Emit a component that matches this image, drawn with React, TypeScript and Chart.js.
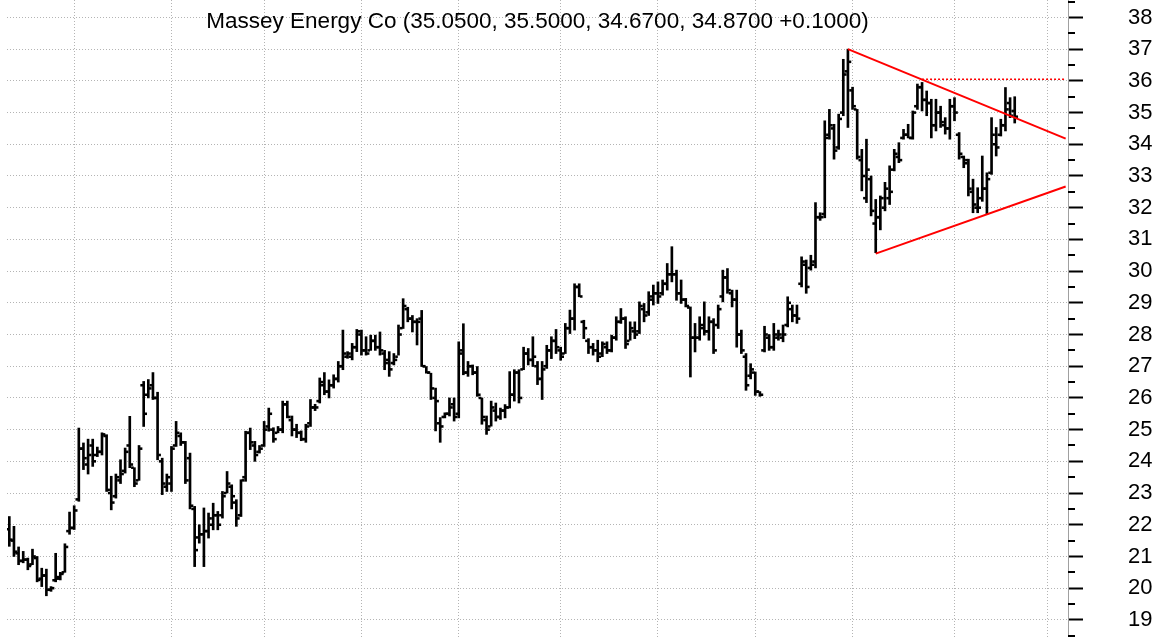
import React, { useEffect, useRef } from 'react';
import { Chart, registerables } from 'chart.js';

Chart.register(...registerables);

const TITLE = 'Massey Energy Co (35.0500, 35.5000, 34.6700, 34.8700 +0.1000)';

const HIGH = [
  22.26, 21.95, 21.30, 21.16, 20.95, 21.23, 21.00, 20.63, 20.60, 20.05,
  21.10, 20.50, 21.40, 22.40, 22.60, 25.05, 24.58, 24.70, 24.70, 24.45,
  24.90, 24.84, 23.53, 23.60, 24.05, 24.42, 25.42, 23.80, 24.50, 26.52,
  26.58, 26.80, 26.18, 24.10, 23.60, 24.47, 25.26, 24.90, 24.63, 24.26,
  22.58, 22.00, 22.53, 22.37, 22.68, 22.42, 23.05, 23.68, 23.26, 22.79,
  23.42, 24.95, 25.05, 24.63, 24.50, 25.26, 25.68,
  25.06, 25.10, 25.90, 25.90, 25.43, 25.17, 24.96, 25.17, 25.95, 25.80,
  26.63, 26.80, 26.57, 26.73, 27.15, 28.14, 27.46, 27.72, 28.16, 28.14,
  27.93, 27.98, 27.98, 28.08, 27.50, 27.46, 27.40, 28.30, 29.13, 28.86,
  28.60, 28.50, 28.76, 26.99, 26.78, 26.31, 25.38, 25.53, 26.00, 26.00,
  27.77, 28.34, 27.15, 27.04, 26.99, 26.00, 25.43, 25.90, 25.84, 25.68,
  25.79, 26.83, 26.89, 26.89, 27.60, 27.56, 27.93, 27.15, 27.15,
  27.66, 27.93, 28.16, 27.60, 28.35, 28.77, 29.60, 29.60, 28.45, 27.87,
  27.72, 27.82, 27.77, 27.77, 27.98, 28.56, 28.82, 28.56, 28.40, 28.40,
  29.03, 28.98, 29.35, 29.56, 29.66, 29.72, 30.24, 30.77, 30.03, 29.72,
  29.14, 28.87, 28.35, 28.56, 29.03, 28.56, 28.50, 28.93, 30.03, 30.08,
  29.40, 29.40, 28.14, 27.40, 27.08, 26.82, 26.20, 28.26, 28.00, 28.35,
  28.14, 28.30, 29.19, 28.93, 28.93, 30.45, 30.35, 30.50,
  32.16, 31.84, 34.74, 35.10, 34.63, 34.95, 36.68, 37.00, 35.80, 35.10,
  33.84, 34.16, 33.00, 32.26, 32.37, 32.80, 33.32, 33.84, 34.05, 34.47,
  34.63, 35.05, 35.90, 35.95, 35.68, 35.42, 35.42, 35.20, 34.84, 35.42,
  35.47, 34.37, 33.63, 33.53, 32.90, 32.63, 33.63, 33.10, 34.84, 34.53,
  34.79, 35.79, 35.47, 35.50,
];

const LOW = [
  21.32, 21.00, 20.74, 20.80, 20.58, 20.74, 20.20, 20.05, 19.76, 19.90,
  20.20, 20.26, 20.50, 21.70, 21.85, 22.74, 23.74, 23.60, 23.84, 24.15,
  24.20, 23.05, 22.47, 22.84, 23.30, 23.63, 23.80, 23.20, 23.40, 25.10,
  26.00, 25.95, 24.05, 22.95, 23.05, 23.05, 24.47, 24.50, 23.30, 22.50,
  20.68, 21.42, 20.68, 21.58, 21.84, 21.84, 22.21, 23.00, 22.50, 21.95,
  22.26, 23.37, 24.37, 24.00, 24.26, 24.47, 24.95,
  24.60, 24.90, 24.90, 25.37, 24.80, 24.75, 24.65, 24.60, 25.10, 25.60,
  25.84, 26.10, 26.00, 26.31, 26.50, 26.89, 27.25, 27.20, 27.46, 27.35,
  27.35, 27.50, 27.50, 27.35, 26.89, 26.68, 27.04, 27.35, 28.19, 28.40,
  28.08, 27.67, 26.99, 26.78, 25.95, 24.96, 24.60, 25.37, 25.43, 25.27,
  25.37, 26.73, 26.68, 26.73, 26.05, 25.17, 24.85, 25.11, 25.27, 25.32,
  25.37, 25.68, 25.90, 25.84, 26.89, 27.04, 26.99, 26.42, 25.95,
  26.93, 27.24, 27.40, 27.19, 27.40, 28.03, 28.14, 29.19, 27.87, 27.40,
  27.35, 27.14, 27.30, 27.40, 27.45, 27.82, 28.35, 27.56, 27.82, 27.87,
  28.03, 28.40, 28.60, 28.93, 28.98, 29.24, 29.40, 29.66, 29.08, 28.98,
  28.87, 26.66, 27.45, 27.82, 27.98, 27.82, 27.40, 28.19, 29.03, 29.30,
  28.87, 27.60, 27.40, 26.24, 26.60, 26.08, 26.05, 27.45, 27.50, 27.50,
  27.82, 27.77, 28.24, 28.40, 28.35, 29.50, 29.30, 30.03,
  30.10, 31.60, 31.68, 34.16, 33.53, 33.84, 34.90, 34.53, 35.10, 33.53,
  32.53, 32.16, 31.74, 30.58, 31.30, 31.90, 32.10, 33.16, 33.42, 34.16,
  34.20, 34.16, 35.10, 35.05, 34.90, 34.20, 34.42, 34.53, 34.32, 34.16,
  34.74, 33.53, 33.26, 32.37, 31.84, 31.84, 32.20, 31.79, 33.05, 33.63,
  34.26, 34.42, 34.84, 34.67,
];

const OPEN = [
  21.86, 21.50, 21.10, 20.86, 20.90, 20.75, 20.95, 20.30, 20.40, 19.95,
  20.25, 20.30, 20.50, 21.80, 21.90, 22.80, 24.40, 23.90, 24.50, 24.20,
  24.30, 24.80, 23.00, 22.90, 23.40, 23.70, 24.50, 23.80, 23.40, 26.40,
  26.10, 26.40, 26.00, 24.00, 23.20, 23.30, 24.50, 24.80, 24.60, 24.10,
  22.50, 21.60, 21.70, 21.80, 22.00, 22.30, 22.30, 23.00, 23.20, 22.70,
  22.30, 23.50, 24.90, 24.50, 24.30, 24.50, 25.10,
  25.00, 24.90, 25.00, 25.80, 25.30, 25.00, 24.90, 24.70, 25.20, 25.70,
  25.90, 26.40, 26.20, 26.40, 26.60, 27.00, 27.30, 27.30, 27.60, 28.00,
  27.50, 27.50, 27.80, 27.60, 27.40, 27.20, 27.10, 27.30, 28.20, 28.80,
  28.50, 28.40, 28.50, 27.00, 26.80, 26.00, 25.20, 25.40, 25.50, 25.80,
  25.50, 27.50, 26.80, 27.00, 26.80, 26.00, 25.30, 25.10, 25.60, 25.40,
  25.60, 25.70, 26.10, 26.80, 26.90, 27.40, 27.20, 27.00, 26.60,
  27.00, 27.50, 27.80, 27.50, 27.40, 28.20, 28.50, 29.50, 28.40, 27.80,
  27.60, 27.50, 27.40, 27.60, 27.50, 27.90, 28.40, 28.50, 27.80, 28.10,
  28.10, 28.80, 28.70, 29.10, 29.30, 29.30, 29.60, 29.90, 29.90, 29.30,
  29.10, 28.85, 27.90, 27.90, 28.20, 28.10, 28.40, 28.30, 29.20, 29.80,
  29.30, 29.10, 28.00, 27.30, 26.70, 26.80, 26.20, 27.50, 27.90, 27.60,
  27.90, 27.90, 28.30, 28.80, 28.60, 29.60, 30.20, 30.10,
  30.30, 31.70, 31.80, 34.30, 34.50, 33.90, 35.00, 36.30, 35.70, 35.10,
  33.50, 32.30, 32.90, 31.50, 31.70, 32.00, 32.30, 33.20, 33.60, 34.20,
  34.30, 34.20, 35.20, 35.80, 35.40, 35.30, 34.60, 35.00, 34.60, 34.50,
  35.20, 34.30, 33.60, 33.50, 32.50, 32.00, 32.30, 32.60, 33.10, 34.00,
  34.30, 34.60, 35.30, 35.05,
];

const CLOSE = [
  21.53, 21.15, 20.86, 20.90, 20.70, 21.00, 20.26, 20.40, 19.95, 20.00,
  20.35, 20.45, 21.30, 21.90, 22.45, 24.40, 24.10, 24.20, 24.00, 24.30,
  24.85, 23.10, 22.70, 23.50, 23.60, 24.30, 23.90, 23.30, 24.40, 25.50,
  26.30, 26.00, 24.20, 23.30, 23.50, 24.40, 24.90, 24.60, 23.40, 22.60,
  21.20, 21.70, 21.80, 22.20, 22.30, 22.00, 22.90, 23.30, 22.90, 22.20,
  23.40, 24.90, 24.60, 24.20, 24.40, 25.00, 25.50,
  24.70, 25.00, 25.80, 25.40, 25.00, 24.90, 24.70, 25.10, 25.70, 25.70,
  26.50, 26.20, 26.40, 26.60, 27.00, 27.40, 27.40, 27.60, 28.10, 27.50,
  27.40, 27.80, 27.60, 27.50, 27.10, 26.90, 27.20, 28.00, 28.90, 28.50,
  28.40, 28.40, 27.00, 26.80, 26.30, 25.90, 25.10, 25.50, 25.70, 25.40,
  27.40, 26.80, 27.00, 26.80, 26.10, 25.40, 25.00, 25.70, 25.40, 25.60,
  25.70, 26.10, 26.80, 26.00, 27.40, 27.20, 27.30, 26.60, 26.90,
  27.50, 27.80, 27.60, 27.30, 28.20, 28.50, 29.50, 29.20, 28.20, 27.60,
  27.50, 27.30, 27.70, 27.50, 27.90, 28.40, 28.50, 27.70, 28.20, 28.00,
  28.90, 28.60, 29.20, 29.30, 29.20, 29.60, 29.90, 29.90, 29.30, 29.10,
  28.90, 27.90, 27.90, 28.30, 28.10, 28.40, 27.50, 28.80, 29.80, 29.40,
  29.10, 28.00, 27.50, 26.40, 26.90, 26.20, 26.10, 28.00, 27.60, 28.00,
  28.00, 28.00, 29.00, 28.60, 28.50, 30.30, 29.50, 30.20,
  31.70, 31.70, 34.20, 34.60, 33.80, 34.80, 36.20, 36.60, 35.20, 33.60,
  33.00, 33.20, 31.90, 31.70, 32.30, 32.60, 32.50, 33.70, 33.50, 34.30,
  34.20, 35.00, 35.80, 35.40, 35.30, 34.60, 35.00, 34.70, 34.50, 35.20,
  35.00, 33.70, 33.40, 32.60, 32.10, 32.00, 32.60, 32.90, 34.30, 33.90,
  34.60, 35.10, 34.90, 34.87,
];

// trading-day slots on the x axis (bars plus empty room to the right)
const SLOTS = 229;
const SLOT_LABELS = Array.from({ length: SLOTS }, (_, i) => i);
const MONTH_START_INDEX = [14, 35, 55, 76, 97, 119, 140, 161, 182, 204, 224];

const Y_MIN = 18.46;
const Y_MAX = 38.55;
const MINOR_TICKS = [
  18.5, 19.5, 20.5, 21.5, 22.5, 23.5, 24.5, 25.5, 26.5, 27.5, 28.5,
  29.5, 30.5, 31.5, 32.5, 33.5, 34.5, 35.5, 36.5, 37.5, 38.5,
];

// trendlines: slot index -> price
const UPPER_TREND = [
  { x: 181, y: 37.0 },
  { x: 228, y: 34.18 },
];
const LOWER_TREND = [
  { x: 187, y: 30.55 },
  { x: 228, y: 32.67 },
];
const RESISTANCE = [
  { x: 197, y: 36.05 },
  { x: 228, y: 36.05 },
];

const TICK_HALF = 0.03;
const FONT = '"Liberation Sans", Arial, sans-serif';

const minorTickPlugin = {
  id: 'minorTicks',
  afterDraw(chart: any) {
    const s = chart.scales.y;
    const ctx = chart.ctx;
    ctx.save();
    ctx.strokeStyle = '#000';
    ctx.lineWidth = 2;
    for (const v of MINOR_TICKS) {
      const y = Math.round(s.getPixelForValue(v));
      ctx.beginPath();
      ctx.moveTo(s.left, y);
      ctx.lineTo(s.left + 7, y);
      ctx.stroke();
    }
    ctx.restore();
  },
};

const titlePlugin = {
  id: 'overlayTitle',
  afterDraw(chart: any) {
    const a = chart.chartArea;
    const ctx = chart.ctx;
    ctx.save();
    ctx.font = `22.5px ${FONT}`;
    ctx.fillStyle = '#000';
    ctx.textAlign = 'center';
    ctx.textBaseline = 'alphabetic';
    ctx.fillText(TITLE, (a.left + a.right) / 2, 28);
    ctx.restore();
  },
};

const redLine = (data: any, dashed: boolean) => ({
  type: 'line' as const,
  data,
  borderColor: '#ff0000',
  borderWidth: dashed ? 1.5 : 2,
  borderDash: dashed ? [2, 2] : [],
  pointRadius: 0,
  spanGaps: true,
  order: 1,
});

export default function App() {
  const ref = useRef<HTMLCanvasElement>(null);

  useEffect(() => {
    if (!ref.current) return;
    const chart = new Chart(ref.current, {
      type: 'bar',
      data: {
        labels: SLOT_LABELS,
        datasets: [
          {
            type: 'bar',
            data: OPEN.map((o) => [o - TICK_HALF, o + TICK_HALF]) as any,
            backgroundColor: '#000',
            barThickness: 2,
            borderWidth: 0,
            order: 2,
          },
          {
            type: 'bar',
            data: LOW.map((l, i) => [l, HIGH[i]]) as any,
            backgroundColor: '#000',
            barThickness: 2,
            borderWidth: 0,
            order: 2,
          },
          {
            type: 'bar',
            data: CLOSE.map((c) => [c - TICK_HALF, c + TICK_HALF]) as any,
            backgroundColor: '#000',
            barThickness: 2,
            borderWidth: 0,
            order: 2,
          },
          redLine(UPPER_TREND, false) as any,
          redLine(LOWER_TREND, false) as any,
          redLine(RESISTANCE, true) as any,
        ],
      },
      options: {
        animation: false,
        responsive: true,
        maintainAspectRatio: false,
        layout: { padding: { left: 7, right: 0, top: 0, bottom: 0 } },
        plugins: { legend: { display: false }, tooltip: { enabled: false } },
        datasets: { bar: { categoryPercentage: 1, barPercentage: 1 } },
        scales: {
          x: {
            type: 'category',
            offset: true,
            grid: { offset: false, color: '#b4b4b4', lineWidth: 1, drawTicks: false },
            border: { display: false, dash: [1, 2] },
            ticks: { display: false, autoSkip: false },
            afterBuildTicks: (s: any) => {
              s.ticks = MONTH_START_INDEX.map((v) => ({ value: v }));
            },
          },
          y: {
            position: 'right',
            min: Y_MIN,
            max: Y_MAX,
            afterFit: (s: any) => {
              s.width = 100;
              s.paddingTop = 0;
              s.paddingBottom = 0;
            },
            ticks: {
              stepSize: 1,
              includeBounds: false,
              padding: 45,
              color: '#000',
              font: { family: FONT, size: 22 },
            },
            grid: {
              color: '#b4b4b4',
              lineWidth: 1,
              tickLength: 15,
              tickColor: '#000',
              tickWidth: 2,
            },
            border: { display: true, color: '#a0a0a0', width: 1, dash: [1, 2] },
          },
        },
      },
      plugins: [minorTickPlugin, titlePlugin],
    });
    return () => chart.destroy();
  }, []);

  return (
    <div style={{ position: 'absolute', left: 0, top: 0, width: 1168, height: 637, background: '#fff' }}>
      <canvas ref={ref} />
    </div>
  );
}
